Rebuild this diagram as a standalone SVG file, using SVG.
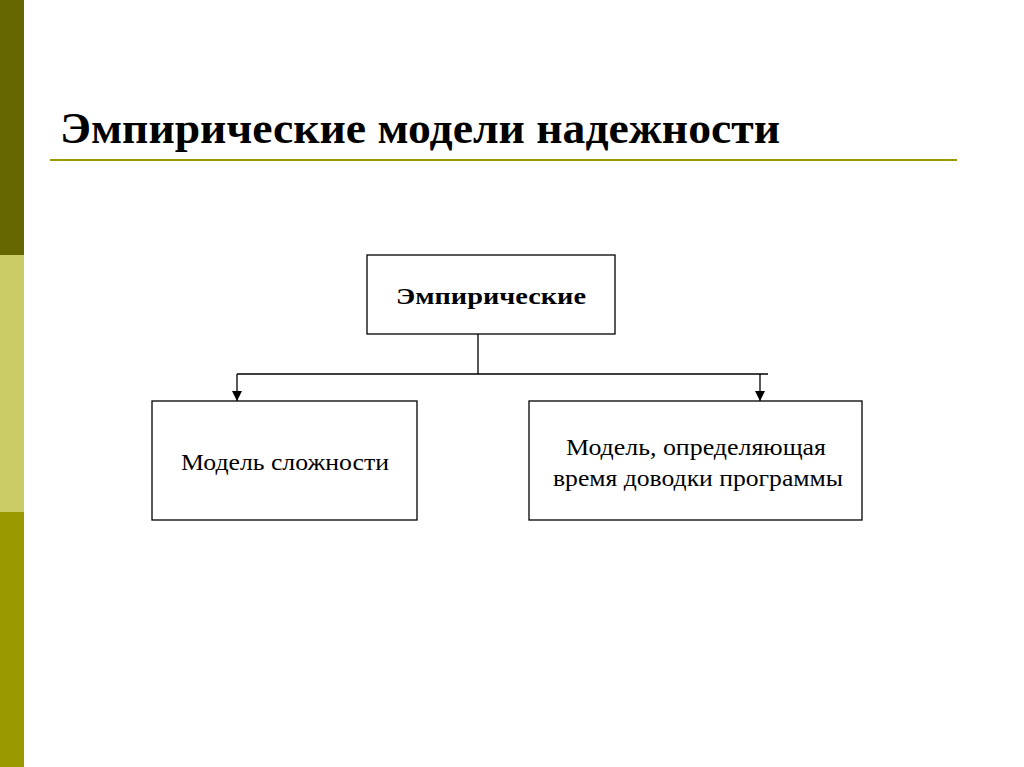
<svg xmlns="http://www.w3.org/2000/svg" width="1024" height="767" viewBox="0 0 1024 767">
<style>
.box{fill:#fff;stroke:#000;stroke-width:1.3}
.t{font-family:"Liberation Serif",serif;font-size:24px;fill:#000;text-anchor:middle}
.c{stroke:#000;stroke-width:1.3;fill:none}
</style>
<defs>
<marker id="ar" viewBox="0 0 10 10" refX="10" refY="5" markerWidth="11" markerHeight="10" orient="auto" markerUnits="userSpaceOnUse"><path d="M0,0 L10,5 L0,10 Z" fill="#000"/></marker></defs>
<rect width="1024" height="767" fill="#fff"/>
<rect x="0" y="0" width="24" height="255" fill="#666600"/>
<rect x="0" y="255" width="24" height="257" fill="#cccc66"/>
<rect x="0" y="512" width="24" height="255" fill="#999900"/>
<text x="60" y="143" textLength="720" lengthAdjust="spacingAndGlyphs" style="font-family:'Liberation Serif',serif;font-size:44px;font-weight:bold" fill="#000">Эмпирические модели надежности</text>
<line x1="50" y1="160" x2="957" y2="160" stroke="#999900" stroke-width="2"/>
<g id="connectors">
<path class="c" d="M478,334 V374 M237,374 H768"/>
<path class="c" d="M237,374 V401" marker-end="url(#ar)"/>
<path class="c" d="M760,374 V401" marker-end="url(#ar)"/>
</g>
<g id="n1"><rect class="box" x="367" y="255" width="248" height="79"/><text class="t" x="491" y="304" font-weight="bold" textLength="190" lengthAdjust="spacingAndGlyphs">Эмпирические</text></g>
<g id="n2"><rect class="box" x="152" y="401" width="265" height="119"/><text class="t" x="285" y="470" textLength="208" lengthAdjust="spacingAndGlyphs">Модель сложности</text></g>
<g id="n3"><rect class="box" x="529" y="401" width="333" height="119"/><text class="t" x="696" y="455" textLength="260" lengthAdjust="spacingAndGlyphs">Модель, определяющая</text><text class="t" x="698" y="486" textLength="290" lengthAdjust="spacingAndGlyphs">время доводки программы</text></g>
</svg>
